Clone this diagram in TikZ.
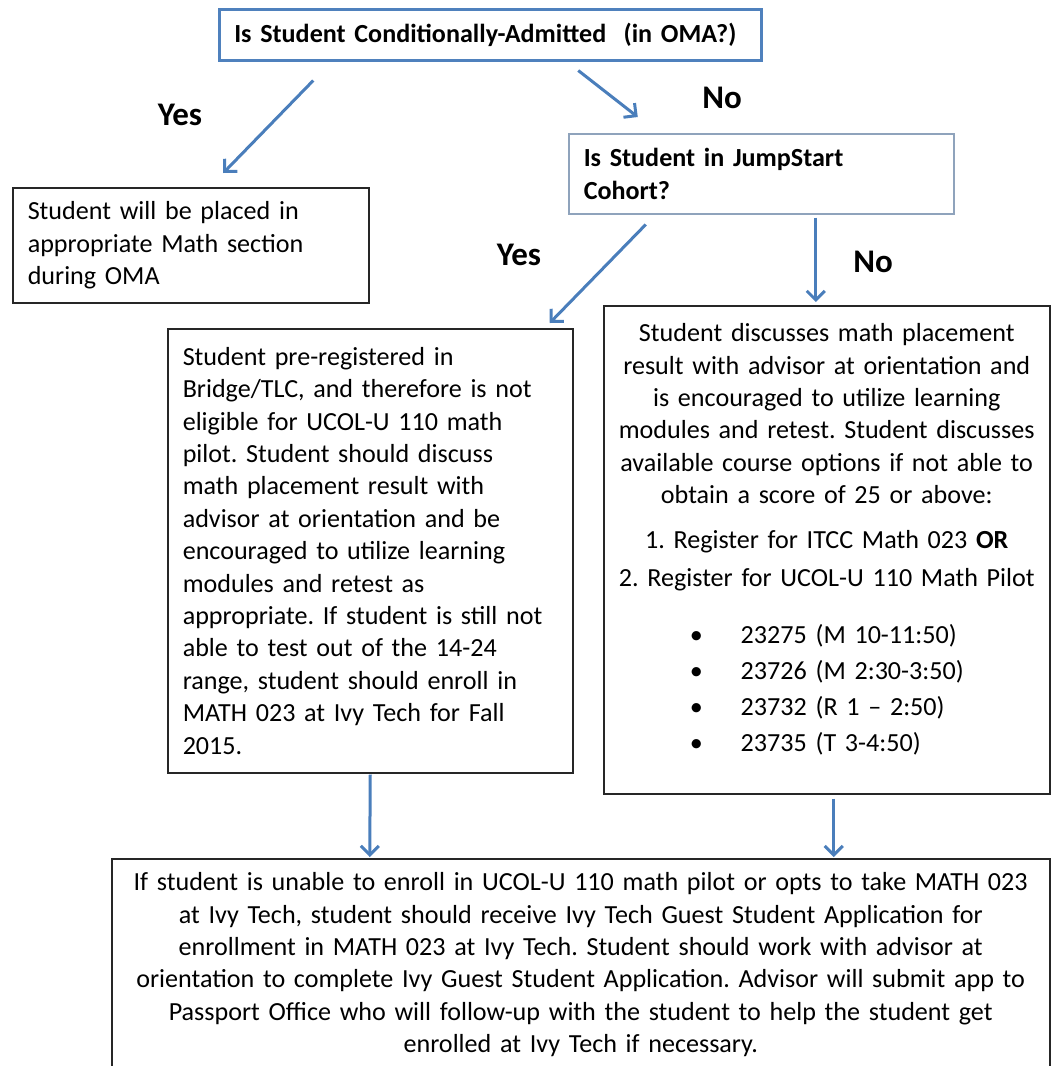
\documentclass[tikz,border=0pt]{standalone}
\usepackage{fontspec}
\setmainfont{Carlito}
\usepackage{tikz}
\usetikzlibrary{arrows.meta}
\definecolor{arrowblue}{HTML}{4A7EBB}
\definecolor{qblue}{HTML}{4F81BD}
\definecolor{qgrey}{HTML}{8FA3BC}
\definecolor{boxline}{HTML}{262626}
\frenchspacing
\newcommand{\bodyfont}{\fontsize{26.1}{32.4}\selectfont\frenchspacing\hyphenpenalty=10000}
\newcommand{\ansfont}{\fontsize{33}{38}\selectfont\bfseries}
\newcommand{\slot}[1]{\makebox[434pt][l]{\hspace{80pt}\textbullet\hspace{38pt}#1}}
\tikzset{
	qbox/.style 2 args={draw=qblue,line width=2.5pt,anchor=north west,align=left,inner xsep=15pt,inner ysep=0pt,text width=#1,minimum height=#2,font=\bodyfont\bfseries},
	tbox/.style 2 args={draw=boxline,line width=1.5pt,anchor=north west,inner xsep=15pt,inner ysep=0pt,text width=#1,minimum height=#2,font=\bodyfont},
	ans/.style={font=\ansfont},
	flow/.style={arrowblue,line width=3pt,-{Straight Barb[length=9pt,width=18pt]}}
}

\begin{document}
\begin{tikzpicture}[x=1pt,y=-1pt]
					\useasboundingbox (0,0) rectangle (1051,1066);

					\node [qbox={512pt}{51pt}] (oma) at (218,8) {Is Student Conditionally-Admitted \ (in OMA?)};
					\node [qbox={355pt}{80pt},draw=qgrey,line width=1.5pt] (jump) at (568,133) {Is Student in JumpStart\\Cohort?};

					\node [tbox={326pt}{115pt},align=left] (placed) at (12,187) {Student will be placed in\\appropriate Math section\\during OMA};
					\node [tbox={375pt}{444pt},align=left] (bridge) at (167,328) {Student pre-registered in\\Bridge/TLC, and therefore is not\\eligible for UCOL-U 110 math\\pilot. Student should discuss\\math placement result with\\advisor at orientation and be\\encouraged to utilize learning\\modules and retest as\\appropriate. If student is still not\\able to test out of the 14-24\\range, student should enroll in\\MATH 023 at Ivy Tech for Fall\\2015.};
					\node [tbox={434pt}{488pt},align=center,inner xsep=6pt] (retest) at (603,305) {Student discusses math placement\\result with advisor at orientation and\\is encouraged to utilize learning\\modules and retest. Student discusses\\available course options if not able to\\obtain a score of 25 or above:\\[12pt]1. Register for ITCC Math 023 \textbf{OR}\\[6pt]2. Register for UCOL-U 110 Math Pilot\\[25pt]\slot{23275 (M 10-11:50)}\\[3.6pt]\slot{23726 (M 2:30-3:50)}\\[3.6pt]\slot{23732 (R 1 -- 2:50)}\\[3.6pt]\slot{23735 (T 3-4:50)\rule[-24pt]{0pt}{0pt}}};
					\node [tbox={908pt}{212pt},align=center] (ivy) at (111,858) {If student is unable to enroll in UCOL-U 110 math pilot or opts to take MATH 023\\at Ivy Tech, student should receive Ivy Tech Guest Student Application for\\enrollment in MATH 023 at Ivy Tech. Student should work with advisor at\\orientation to complete Ivy Guest Student Application. Advisor will submit app to\\Passport Office who will follow-up with the student to help the student get\\enrolled at Ivy Tech if necessary.};

					\node [ans] (yes1) at (180,115) {Yes};
					\node [ans] (no1) at (722,98) {No};
					\node [ans] (yes2) at (519,255) {Yes};
					\node [ans] (no2) at (873,262) {No};

					\draw [flow] ([xshift=-177pt,yshift=-19pt]oma.south) -- ([xshift=32.5pt,yshift=14pt]placed.north);
					\draw [flow] ([xshift=88pt,yshift=-9pt]oma.south) -- ([xshift=-123.5pt,yshift=16pt]jump.north);
					\draw [flow] ([xshift=-115.5pt,yshift=-10pt]jump.south) -- ([xshift=179.5pt,yshift=5pt]bridge.north);
					\draw [flow] ([xshift=54.5pt,yshift=-3pt]jump.south) -- ([xshift=-11pt,yshift=3pt]retest.north);
					\draw [flow] ([yshift=-1pt]bridge.south) -- ([xshift=-211pt,yshift=1pt]ivy.north);
					\draw [flow] ([xshift=7pt,yshift=-4pt]retest.south) -- ([xshift=253pt,yshift=1pt]ivy.north);
				\end{tikzpicture}
\end{document}
